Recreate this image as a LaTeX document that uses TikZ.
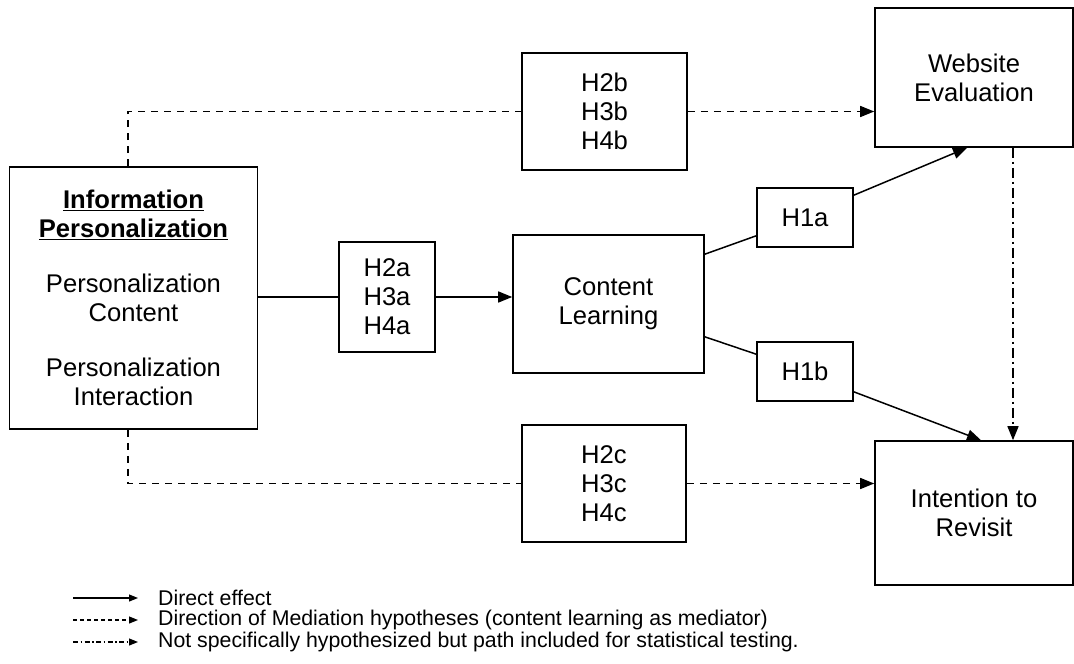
\documentclass[tikz,border=0pt]{standalone}
\usepackage{fontspec}
\setmainfont{Liberation Sans}
\usetikzlibrary{arrows.meta,calc}
\begin{document}
\begin{tikzpicture}[x=1pt,y=-1pt,
  box/.style={draw,line width=1.6pt,inner sep=0pt,align=center,
    font=\fontsize{25.6}{29}\selectfont},
  conn/.style={line width=1.5pt},
  tip/.style={-{Triangle[length=14pt,width=11pt]}},
  dsh/.style={dash pattern=on 7pt off 6pt},
  dshdot/.style={dash pattern=on 10pt off 4pt on 2pt off 4pt},
  legline/.style={line width=1.1pt,-{Triangle[length=9pt,width=7pt]}},
  legtext/.style={anchor=west,inner sep=0pt,font=\fontsize{21.3}{25}\selectfont}]
\useasboundingbox (0,0) rectangle (1074,664);
\fill[white] (0,0) rectangle (1074,664);
% boxes
\node[box,minimum width=248pt,minimum height=262pt] (info) at (133.5,298)
 {\textbf{\underline{Information}}\\\textbf{\underline{Personalization}}\\[26pt]
  Personalization\\Content\\[26pt]Personalization\\Interaction};
\node[box,minimum width=165pt,minimum height=117pt] (h2b) at (604.5,111.5) {H2b\\H3b\\H4b};
\node[box,minimum width=198pt,minimum height=139pt] (web) at (974,77.5) {Website\\Evaluation};
\node[box,minimum width=96pt,minimum height=110pt] (h2a) at (387,297) {H2a\\H3a\\H4a};
\node[box,minimum width=191pt,minimum height=138pt] (cl) at (608.5,304) {Content\\Learning};
\node[box,minimum width=96pt,minimum height=59pt] (h1a) at (805,217.5) {H1a};
\node[box,minimum width=96pt,minimum height=59pt] (h1b) at (805,371.5) {H1b};
\node[box,minimum width=164pt,minimum height=117pt] (h2c) at (604,483.5) {H2c\\H3c\\H4c};
\node[box,minimum width=198pt,minimum height=144pt] (int) at (974,513) {Intention to\\Revisit};
% mediation paths (dashed)
\draw[conn,dsh] ($(info.north)+(-5.5,0)$) |- (h2b.west);
\draw[conn,dsh,tip] (h2b.east) -- (h2b.east -| web.west);
\draw[conn,dsh] ($(info.south)+(-5.5,0)$) |- (h2c.west);
\draw[conn,dsh,tip] (h2c.east) -- (h2c.east -| int.west);
% direct paths
\draw[conn] (info.east |- h2a.west) -- (h2a.west);
\draw[conn,tip] (h2a.east) -- (h2a.east -| cl.west);
\draw[conn] ($(cl.north east)+(0,20)$) -- ($(h1a.south west)+(0,-12)$);
\draw[conn,tip] ($(h1a.north east)+(0,8)$) -- ($(web.south)+(-7,0)$);
\draw[conn] ($(cl.south east)+(0,-37)$) -- ($(h1b.north west)+(0,13)$);
\draw[conn,tip] ($(h1b.south east)+(0,-10)$) -- ($(int.north)+(7,0)$);
% not hypothesized
\draw[conn,dshdot,tip] ($(web.south)+(39,0)$) -- ($(int.north)+(39,0)$);
% legend
\coordinate (la1) at (73,598); \coordinate (lb1) at (138,598);
\coordinate (la2) at (73,620); \coordinate (lb2) at (138,620);
\coordinate (la3) at (73,642); \coordinate (lb3) at (138,642);
\draw[legline] (la1) -- (lb1);
\draw[legline,dash pattern=on 4pt off 3pt] (la2) -- (lb2);
\draw[legline,dash pattern=on 5pt off 2.5pt on 1.5pt off 2.5pt] (la3) -- (lb3);
\node[legtext] (t1) at (158,598) {Direct effect};
\node[legtext] (t2) at (158,620) {Direction of Mediation hypotheses (content learning as mediator)};
\node[legtext] (t3) at (158,642) {Not specifically hypothesized but path included for statistical testing.};
\end{tikzpicture}
\end{document}
